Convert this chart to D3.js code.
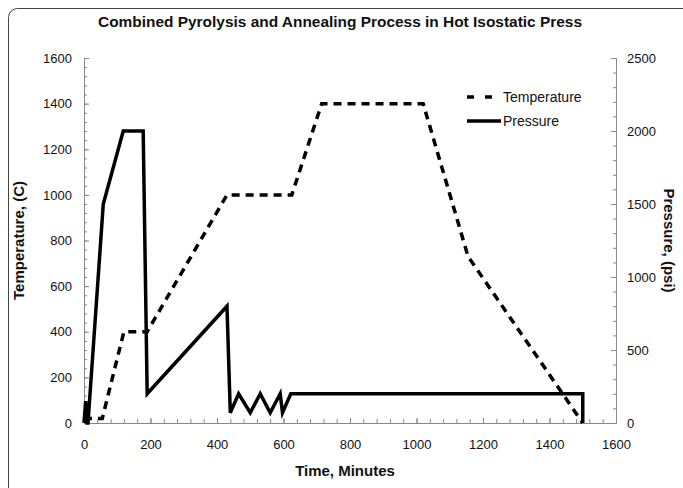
<!DOCTYPE html>
<html>
<head>
<meta charset="utf-8">
<script src="https://cdn.jsdelivr.net/npm/d3@7"></script>
<style>
  html, body { margin: 0; padding: 0; background: #fff; }
  svg { display: block; }
  text { font-family: "Liberation Sans", Arial, sans-serif; fill: #111; }
</style>
</head>
<body>
<svg id="chart" width="683" height="488"></svg>
<script>
// ---- data ----
const tempTime  = [0, 55, 120, 190, 430, 625, 715, 1020, 1155, 1500];
const tempValue = [20, 20, 400, 400, 1000, 1000, 1400, 1400, 730, 0];

const pressTime  = [0, 5, 9, 12, 58, 118, 178, 190, 430, 440, 465, 500, 530, 560, 590, 597, 622, 1500, 1500];
const pressValue = [0, 150, 0, 0, 1500, 2000, 2000, 200, 800, 70, 200, 70, 200, 70, 200, 70, 200, 200, 0];

const xTicks = [0, 200, 400, 600, 800, 1000, 1200, 1400, 1600];
const tTicks = [0, 200, 400, 600, 800, 1000, 1200, 1400, 1600];
const pTicks = [0, 500, 1000, 1500, 2000, 2500];

const titleText = "Combined Pyrolysis and Annealing Process in Hot Isostatic Press";
const xLabel = "Time, Minutes";
const yLabelLeft = "Temperature, (C)";
const yLabelRight = "Pressure, (psi)";
const seriesNames = ["Temperature", "Pressure"];

// ---- layout ----
const svg = d3.select("#chart");
const pLeft = 84, pRight = 616, pTop = 58, pBottom = 423;

const x = d3.scaleLinear().domain([0, 1600]).range([pLeft, pRight]);
const yT = d3.scaleLinear().domain([0, 1600]).range([pBottom, pTop]);
const yP = d3.scaleLinear().domain([0, 2500]).range([pBottom, pTop]);

// outer frame
svg.append("rect")
  .attr("x", 8.5).attr("y", 8.5).attr("width", 700).attr("height", 500)
  .attr("rx", 9).attr("fill", "none").attr("stroke", "#444").attr("stroke-width", 1);

// title
svg.append("text")
  .attr("x", 340).attr("y", 27)
  .attr("text-anchor", "middle")
  .attr("font-size", 15).attr("font-weight", "bold")
  .attr("textLength", 484).attr("lengthAdjust", "spacingAndGlyphs")
  .text(titleText);

const axisColor = "#888";
function styleAxis(g) {
  g.select(".domain").attr("stroke", axisColor).attr("stroke-width", 1);
  g.selectAll(".tick line").attr("stroke", axisColor).attr("stroke-width", 1);
  g.selectAll("text").attr("font-size", 13).attr("fill", "#111")
    .attr("font-family", "'Liberation Sans', Arial, sans-serif");
}

// x minor ticks
const xMinor = d3.range(0, 1601, 40);
svg.append("g").attr("transform", `translate(0,${pBottom})`)
  .call(d3.axisBottom(x).tickValues(xMinor).tickSize(-4).tickSizeOuter(0).tickFormat(""))
  .call(styleAxis);
// x major
svg.append("g").attr("transform", `translate(0,${pBottom})`)
  .call(d3.axisBottom(x).tickValues(xTicks).tickSize(-5).tickSizeOuter(0).tickPadding(17).tickFormat(d3.format("d")))
  .call(styleAxis);

// left minor
svg.append("g").attr("transform", `translate(${pLeft},0)`)
  .call(d3.axisLeft(yT).tickValues(d3.range(0, 1601, 40)).tickSize(-3).tickSizeOuter(0).tickFormat(""))
  .call(styleAxis);
svg.append("g").attr("transform", `translate(${pLeft},0)`)
  .call(d3.axisLeft(yT).tickValues(tTicks).tickSize(-5).tickSizeOuter(0).tickPadding(12).tickFormat(d3.format("d")))
  .call(styleAxis);

// right minor
svg.append("g").attr("transform", `translate(${pRight},0)`)
  .call(d3.axisRight(yP).tickValues(d3.range(0, 2501, 100)).tickSize(-3).tickSizeOuter(0).tickFormat(""))
  .call(styleAxis);
svg.append("g").attr("transform", `translate(${pRight},0)`)
  .call(d3.axisRight(yP).tickValues(pTicks).tickSize(-5).tickSizeOuter(0).tickPadding(11).tickFormat(d3.format("d")))
  .call(styleAxis);

// axis titles
svg.append("text")
  .attr("x", 345).attr("y", 476)
  .attr("text-anchor", "middle").attr("font-size", 15).attr("font-weight", "bold")
  .text(xLabel);

svg.append("text")
  .attr("transform", `translate(24,${(pTop + pBottom) / 2}) rotate(-90)`)
  .attr("text-anchor", "middle").attr("font-size", 15).attr("font-weight", "bold")
  .text(yLabelLeft);

svg.append("text")
  .attr("transform", `translate(664,${(pTop + pBottom) / 2}) rotate(90)`)
  .attr("text-anchor", "middle").attr("font-size", 15).attr("font-weight", "bold")
  .text(yLabelRight);

// series
const tempData = tempTime.map((t, i) => [t, tempValue[i]]);
const pressData = pressTime.map((t, i) => [t, pressValue[i]]);

svg.append("path")
  .datum(tempData)
  .attr("fill", "none").attr("stroke", "#000").attr("stroke-width", 3.5)
  .attr("stroke-dasharray", "8,6")
  .attr("d", d3.line().x(d => x(d[0])).y(d => yT(d[1])));

svg.append("path")
  .datum(pressData)
  .attr("fill", "none").attr("stroke", "#000").attr("stroke-width", 3.5)
  .attr("stroke-linejoin", "miter")
  .attr("d", d3.line().x(d => x(d[0])).y(d => yP(d[1])));

// legend
const lg = svg.append("g");
lg.append("line").attr("x1", 467).attr("x2", 492).attr("y1", 97).attr("y2", 97)
  .attr("stroke", "#000").attr("stroke-width", 3.5).attr("stroke-dasharray", "7,11");
lg.append("text").attr("x", 503).attr("y", 102).attr("font-size", 14).text(seriesNames[0]);
lg.append("line").attr("x1", 467).attr("x2", 501).attr("y1", 121).attr("y2", 121)
  .attr("stroke", "#000").attr("stroke-width", 3.5);
lg.append("text").attr("x", 503).attr("y", 126).attr("font-size", 14).text(seriesNames[1]);
</script>
</body>
</html>
